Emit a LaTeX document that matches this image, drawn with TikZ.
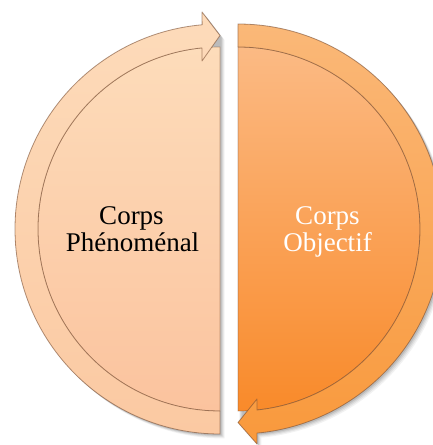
\documentclass[tikz,border=0pt]{standalone}
\usepackage{fontspec}
\setmainfont{Liberation Serif}
\definecolor{ltop}{HTML}{FDDCBA}
\definecolor{lbot}{HTML}{FBC39E}
\definecolor{lrimtop}{HTML}{FDDBBA}
\definecolor{lrimbot}{HTML}{FBC9A2}
\definecolor{rtop}{HTML}{FBBA84}
\definecolor{rbot}{HTML}{F98A2A}
\definecolor{rrimtop}{HTML}{FAB878}
\definecolor{rrimbot}{HTML}{F9993C}
\definecolor{edgecol}{HTML}{7A4E32}
\tikzset{
  rimedge/.style={draw=edgecol, draw opacity=0.6, line width=0.8pt, line join=round},
  diskedge/.style={draw=edgecol, draw opacity=0.45, line width=0.7pt},
  shadowstyle/.style={fill=black, fill opacity=#1, draw=none},
  lbl/.style={font=\fontsize{27}{27}\selectfont, inner sep=0pt},
}
\newcommand{\lrimpath}{(220,11) arc[start angle=270,end angle=95,radius=205] -- (202,433) -- (220,409.5) -- (202,384) -- (201.9,397.1) arc[start angle=95.7,end angle=270,radius=182] -- cycle}
\newcommand{\ldiskpath}{(220,398) arc[start angle=90,end angle=270,radius=182] -- cycle}
\newcommand{\lunionpath}{(220,11) arc[start angle=270,end angle=95,radius=205] -- (202,433) -- (220,409.5) -- cycle}
\newcommand{\rrimpath}{(238,421) arc[start angle=90,end angle=-84.7,radius=205] -- (257,1) -- (238,22.5) -- (257,46) -- (257,35) arc[start angle=-84,end angle=90,radius=182] -- cycle}
\newcommand{\rdiskpath}{(238,398) arc[start angle=90,end angle=-90,radius=182] -- cycle}
\newcommand{\runionpath}{(238,421) arc[start angle=90,end angle=-84.7,radius=205] -- (257,1) -- (238,22.5) -- cycle}
\begin{document}
\begin{tikzpicture}[x=1pt,y=1pt]
\useasboundingbox (0,0) rectangle (433,445);
\clip (0,0) rectangle (433,445);
\fill[white] (0,0) rectangle (433,445);
% soft shadows
\foreach \d/\o in {4.5/0.05,3.5/0.06,2.5/0.08,1.5/0.1} {
  \begin{scope}[shift={(\d,-\d)}]
    \path[shadowstyle=\o] \lunionpath;
    \path[shadowstyle=\o] \runionpath;
  \end{scope}
}
% left half
\path[top color=ltop, bottom color=lbot, diskedge] \ldiskpath;
\path[top color=lrimtop, bottom color=lrimbot, rimedge] \lrimpath;
% right half
\path[top color=rtop, bottom color=rbot, diskedge] \rdiskpath;
\path[top color=rrimtop, bottom color=rrimbot, rimedge] \rrimpath;
% labels
\node[lbl, anchor=base] (lc) at (131.5,220.7) {Corps};
\node[lbl, anchor=base] (lp) at (132.5,193.3) {Phénoménal};
\node[lbl, anchor=base, text=white] (rc) at (327.5,220.7) {Corps};
\node[lbl, anchor=base, text=white] (ro) at (327.5,193.3) {Objectif};
\end{tikzpicture}
\end{document}
